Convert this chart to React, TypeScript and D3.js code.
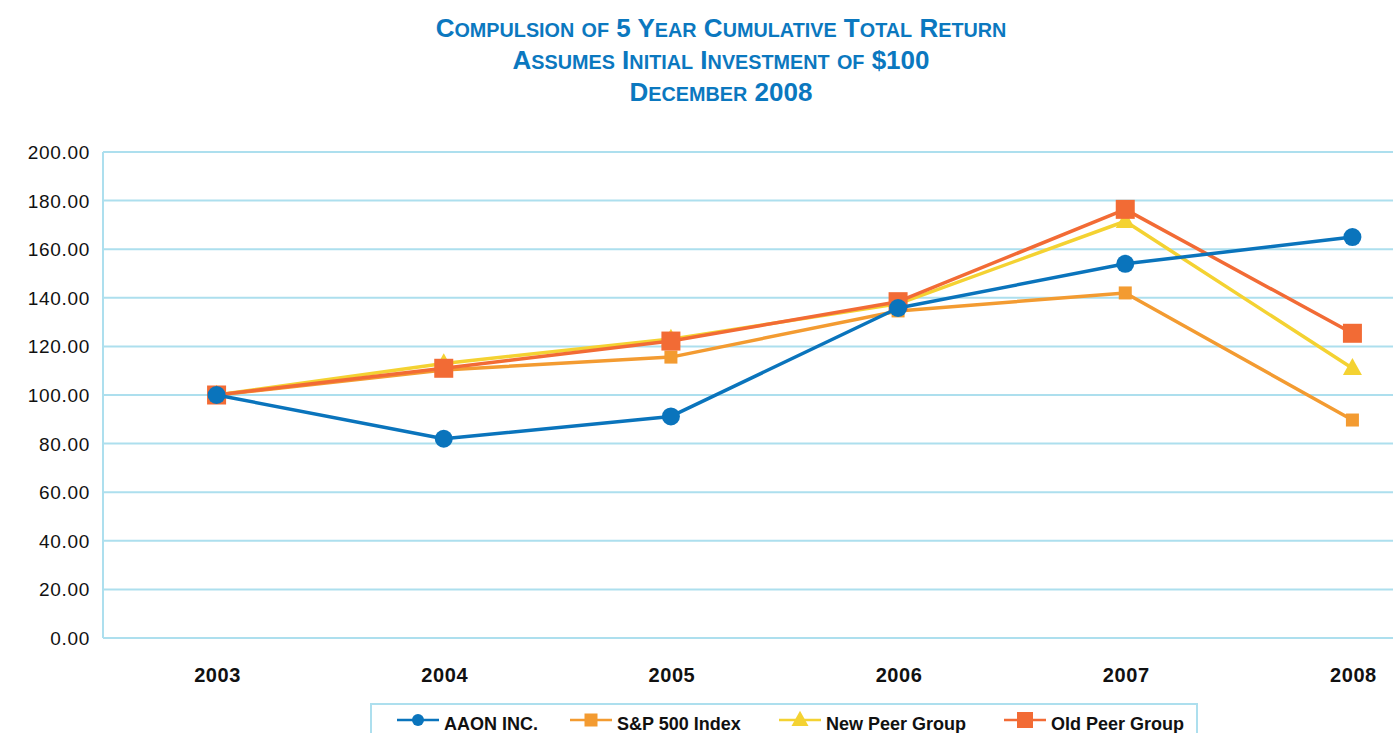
import React, { useEffect, useRef } from "react";
import * as d3 from "d3";

const years = ["2003", "2004", "2005", "2006", "2007", "2008"];
const aaon = [100, 82, 91.2, 135.8, 154, 165];
const sp500 = [100, 110.3, 115.6, 134.6, 142, 89.7];
const newPeer = [100, 113, 123, 137.5, 171.5, 111];
const oldPeer = [100, 111, 122.2, 138.4, 176.4, 125.4];
const yTicks = [0, 20, 40, 60, 80, 100, 120, 140, 160, 180, 200];
const titleLines = [
  "Compulsion of 5 Year Cumulative Total Return",
  "Assumes Initial Investment of $100",
  "December 2008",
];

const series = [
  { name: "AAON INC.", values: aaon, color: "#0a74bc", marker: "circle", size: 9 },
  { name: "S&P 500 Index", values: sp500, color: "#f39b31", marker: "square", size: 13 },
  { name: "New Peer Group", values: newPeer, color: "#f4d232", marker: "triangle", size: 19 },
  { name: "Old Peer Group", values: oldPeer, color: "#f26b35", marker: "square", size: 19 },
];
// draw order: later ones on top
const drawOrder = [1, 2, 3, 0];
const legendX = [397, 570, 779, 1004];

const W = 1393;
const H = 733;
const GRID = "#addfee";
const FONT = "'Liberation Sans', Arial, Helvetica, sans-serif";

function drawMarker(g: any, type: string, x: number, y: number, size: number, color: string) {
  if (type === "circle") {
    g.append("circle").attr("cx", x).attr("cy", y).attr("r", size).attr("fill", color);
  } else if (type === "square") {
    g.append("rect")
      .attr("x", x - size / 2).attr("y", y - size / 2)
      .attr("width", size).attr("height", size)
      .attr("fill", color);
  } else {
    const h = size * 0.9;
    g.append("path")
      .attr("d", `M${x},${y - h * 0.6}L${x + size / 2},${y + h * 0.4}L${x - size / 2},${y + h * 0.4}Z`)
      .attr("fill", color);
  }
}

export default function App() {
  const ref = useRef<SVGSVGElement | null>(null);

  useEffect(() => {
    const svg = d3.select(ref.current);
    svg.selectAll("*").remove();

    const x = d3.scaleBand().domain(years).range([103, 1466]).padding(0);
    const y = d3.scaleLinear().domain([0, 200]).range([638, 152]);
    const cx = (i: number) => (x(years[i]) as number) + x.bandwidth() / 2;

    // title in small caps built by hand
    const title = svg.append("g").attr("fill", "#0b78bf").attr("font-family", FONT).attr("font-weight", "bold");
    titleLines.forEach((line, li) => {
      const t = title.append("text")
        .attr("x", 721)
        .attr("y", 37 + li * 32)
        .attr("text-anchor", "middle");
      line.split("").forEach((ch) => {
        const small = ch !== ch.toUpperCase();
        t.append("tspan")
          .attr("font-size", small ? 19.8 : 26)
          .text(ch.toUpperCase());
      });
    });

    // grid
    const grid = svg.append("g");
    grid.selectAll("line")
      .data(yTicks)
      .enter()
      .append("line")
      .attr("x1", 103).attr("x2", W)
      .attr("y1", (d) => y(d)).attr("y2", (d) => y(d))
      .attr("stroke", GRID).attr("stroke-width", 2);
    grid.append("line")
      .attr("x1", 103).attr("x2", 103)
      .attr("y1", y(200)).attr("y2", y(0))
      .attr("stroke", GRID).attr("stroke-width", 2);

    // y labels
    svg.append("g")
      .selectAll("text")
      .data(yTicks)
      .enter()
      .append("text")
      .attr("x", 90)
      .attr("y", (d) => y(d) + 7)
      .attr("text-anchor", "end")
      .attr("font-family", FONT)
      .attr("font-size", 19)
      .attr("letter-spacing", 0.7)
      .attr("fill", "#111")
      .text((d) => d3.format(".2f")(d));

    // x labels
    svg.append("g")
      .selectAll("text")
      .data(years)
      .enter()
      .append("text")
      .attr("x", (d) => (x(d) as number) + x.bandwidth() / 2 + 1)
      .attr("y", 682)
      .attr("text-anchor", "middle")
      .attr("font-family", FONT)
      .attr("font-size", 20)
      .attr("font-weight", "bold")
      .attr("letter-spacing", 0.6)
      .attr("fill", "#111")
      .text((d) => d);

    // series
    const line = d3.line<number>()
      .x((d, i) => cx(i))
      .y((d) => y(d));
    const plot = svg.append("g");
    drawOrder.forEach((si) => {
      const s = series[si];
      const g = plot.append("g");
      g.append("path")
        .datum(s.values)
        .attr("d", line)
        .attr("fill", "none")
        .attr("stroke", s.color)
        .attr("stroke-width", 3.5)
        .attr("stroke-linejoin", "round");
      s.values.forEach((v, i) => drawMarker(g, s.marker, cx(i), y(v), s.size, s.color));
    });

    // legend
    const legend = svg.append("g");
    legend.append("rect")
      .attr("x", 371).attr("y", 704)
      .attr("width", 826).attr("height", 50)
      .attr("fill", "none")
      .attr("stroke", GRID).attr("stroke-width", 2);
    series.forEach((s, i) => {
      const lx = legendX[i];
      const g = legend.append("g");
      g.append("line")
        .attr("x1", lx).attr("x2", lx + 42)
        .attr("y1", 720).attr("y2", 720)
        .attr("stroke", s.color).attr("stroke-width", 2.5);
      const ms = s.marker === "circle" ? 6 : s.marker === "triangle" ? 17 : (i === 3 ? 16 : 13);
      drawMarker(g, s.marker, lx + 21, 720, ms, s.color);
      g.append("text")
        .attr("x", lx + 47)
        .attr("y", 730)
        .attr("font-family", FONT)
        .attr("font-size", 18)
        .attr("font-weight", "bold")
        .attr("fill", "#111")
        .text(s.name);
    });
  }, []);

  return (
    <svg
      ref={ref}
      width={W}
      height={H}
      style={{ position: "absolute", left: 0, top: 0, background: "#fff" }}
    />
  );
}
